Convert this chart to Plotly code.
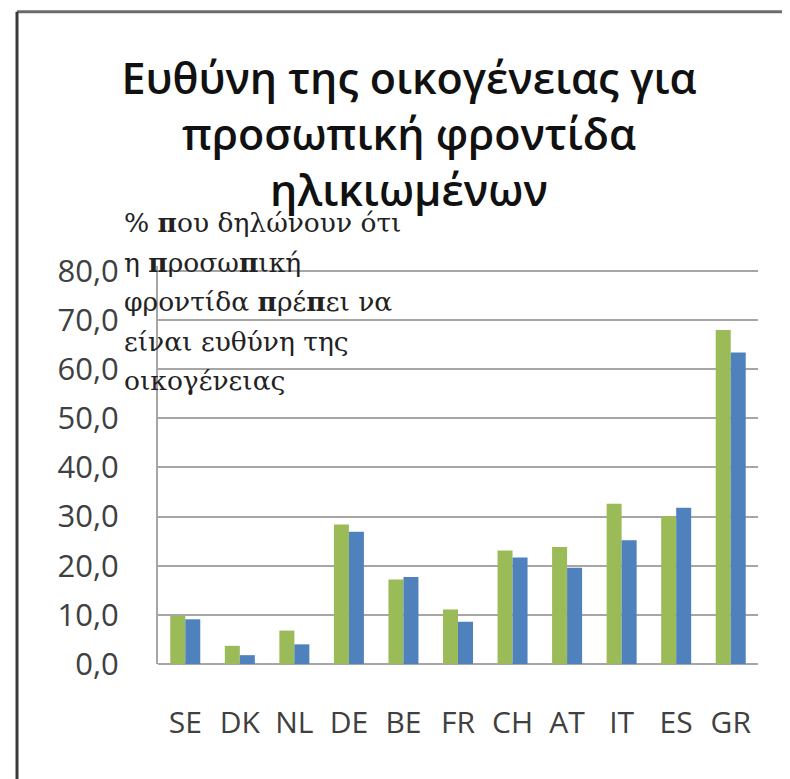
import plotly.graph_objects as go

countries = ["SE", "DK", "NL", "DE", "BE", "FR", "CH", "AT", "IT", "ES", "GR"]
series_green = [9.8, 3.7, 6.8, 28.4, 17.2, 11.1, 23.1, 23.8, 32.6, 30.1, 68.0]
series_blue = [9.1, 1.8, 4.0, 26.9, 17.7, 8.6, 21.7, 19.6, 25.2, 31.8, 63.4]
y_ticks = [0, 10, 20, 30, 40, 50, 60, 70, 80]

title_text = "Ευθύνη της οικογένειας για<br>προσωπική φροντίδα<br>ηλικιωμένων"
ytitle_lines = ["% <b>π</b>ου δηλώνουν ότι", "η <b>π</b>ροσω<b>π</b>ική",
                "φροντίδα <b>π</b>ρέ<b>π</b>ει να", "είναι ευθύνη της", "οικογένειας"]

OFF = 8  # page body margin
W, H = 790 - OFF, 779 - OFF
Y_TOP = 81.0
plot_left = 158 - OFF
plot_right = 758 - OFF
zero_y = 664 - OFF
y80 = 271 - OFF
ph = (zero_y - y80) * Y_TOP / 80
L = plot_left
R = W - plot_right
B = H - zero_y
T = zero_y - ph
pw = plot_right - plot_left

def px_x(x):
    return (x - OFF - L) / pw

def px_y(y):
    return (zero_y - (y - OFF)) / ph

fig = go.Figure()
fig.add_trace(go.Bar(x=countries, y=series_green, marker=dict(color="#9BBB59", line=dict(width=0)), name="A"))
fig.add_trace(go.Bar(x=countries, y=series_blue, marker=dict(color="#4F81BD", line=dict(width=0)), name="B"))

ytitle_annotations = []
for i, line in enumerate(ytitle_lines):
    ytitle_annotations.append(dict(
        text=line, xref="paper", yref="paper",
        x=px_x(122), y=px_y(223 + 39.5 * i), xanchor="left", yanchor="middle",
        align="left", showarrow=False,
        font=dict(family="DejaVu Serif", size=26.5, color="#222222")))

fig.update_layout(
    width=W, height=H, autosize=False,
    margin=dict(l=L, r=R, t=T, b=B, pad=0),
    paper_bgcolor="white", plot_bgcolor="white",
    showlegend=False,
    barmode="group", bargap=0.45, bargroupgap=0,
    separators=",.",
    title=dict(text=title_text, x=(409 - OFF) / W, xanchor="center", xref="container",
               y=1 - 86 / H, yanchor="top", yref="container",
               font=dict(family="Open Sans", size=43, weight=600, color="#111111")),
    xaxis=dict(showgrid=False, showline=False, ticks="", zeroline=False,
               tickfont=dict(family="Open Sans", size=30, color="#404040"),
               ticklabelstandoff=38),
    yaxis=dict(range=[0, Y_TOP], tickvals=y_ticks, tickformat=".1f",
               showgrid=True, gridcolor="#A6A6A6", gridwidth=2,
               zeroline=True, zerolinecolor="#A6A6A6", zerolinewidth=2,
               showline=True, linecolor="#A6A6A6", linewidth=2,
               ticks="", tickfont=dict(family="Open Sans", size=31, color="#404040"),
               ticklabelstandoff=31),
    annotations=ytitle_annotations,
    shapes=[
        dict(type="line", xref="paper", yref="paper", x0=px_x(17), x1=px_x(800),
             y0=px_y(12), y1=px_y(12), line=dict(color="#6b6b6b", width=3)),
        dict(type="line", xref="paper", yref="paper", x0=px_x(17), x1=px_x(17),
             y0=px_y(12), y1=px_y(790), line=dict(color="#3a3a3a", width=3)),
        dict(type="line", xref="paper", yref="paper", x0=px_x(785), x1=px_x(785),
             y0=px_y(25), y1=px_y(790), line=dict(color="#ececec", width=1)),
    ],
)

fig.write_html("out.html")
